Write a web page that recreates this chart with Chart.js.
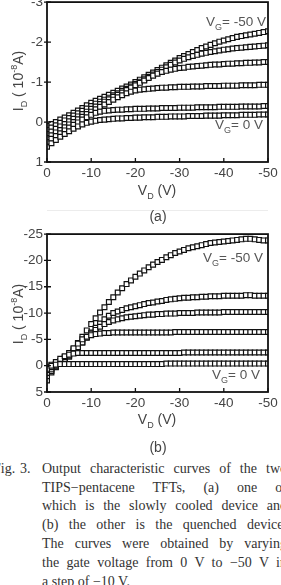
<!DOCTYPE html>
<html><head><meta charset="utf-8">
<script src="https://cdn.jsdelivr.net/npm/chart.js@4"></script>
<style>
html,body{margin:0;padding:0;background:#fff;}
body{width:281px;height:585px;overflow:hidden;position:relative;font-family:"Liberation Sans",Arial,sans-serif;}
canvas{position:absolute;left:0;}
.t{position:absolute;color:#444;font-size:14px;white-space:nowrap;line-height:1;}
.c{transform:translate(-50%,-50%);}
.r{transform:translate(-50%,-50%) rotate(-90deg);}
.t sub,.t sup{font-size:9px;line-height:0;}
.vg{position:absolute;color:#555;font-size:13.5px;white-space:nowrap;line-height:1;transform:translateY(-50%);}
.vg sub{font-size:9px;line-height:0;}
.sep{position:absolute;left:47px;width:221px;height:1px;background:#ececec;}
.cap{position:absolute;left:42px;width:245px;font-family:"Liberation Serif","Times New Roman",serif;font-size:14px;color:#333;line-height:18.8px;white-space:nowrap;}
.j{text-align:justify;text-align-last:justify;white-space:normal;}
</style></head>
<body>
<canvas id="ca" width="281" height="200" style="top:-10px"></canvas>
<canvas id="cb" width="281" height="200" style="top:222px"></canvas>

<div class="t r" style="left:18px;top:81px">I<sub>D</sub> ( 10<sup>-8</sup>A)</div>
<div class="t c" style="left:157px;top:190px">V<sub>D</sub> (V)</div>
<div class="sep" style="top:210px"></div>
<div class="t c" style="left:158px;top:216px">(a)</div>
<div class="vg" style="right:15px;top:22px">V<sub>G</sub>= -50 V</div>
<div class="vg" style="right:18px;top:125px">V<sub>G</sub>= 0 V</div>

<div class="t r" style="left:18px;top:314px">I<sub>D</sub> ( 10<sup>-8</sup>A)</div>
<div class="t c" style="left:157px;top:419px">V<sub>D</sub> (V)</div>
<div class="t c" style="left:158px;top:447px">(b)</div>
<div class="vg" style="right:18px;top:258px">V<sub>G</sub>= -50 V</div>
<div class="vg" style="right:21px;top:375px">V<sub>G</sub>= 0 V</div>

<div class="cap" style="left:-7px;top:460px">Fig.</div>
<div class="cap" style="left:20px;top:460px">3.</div>
<div class="cap j" style="top:460px">Output characteristic curves of the two</div>
<div class="cap j" style="top:478.5px">TIPS−pentacene TFTs, (a) one of</div>
<div class="cap j" style="top:497px">which is the slowly cooled device and</div>
<div class="cap j" style="top:516px">(b) the other is the quenched device.</div>
<div class="cap j" style="top:535px">The curves were obtained by varying</div>
<div class="cap j" style="top:554px">the gate voltage from 0 V to −50 V in</div>
<div class="cap" style="top:573px">a step of −10 V.</div>

<script>
const VD = [0,-1,-2,-3,-4,-5,-6,-7,-8,-9,-10,-11,-12,-13,-14,-15,-16,-17,-18,-19,-20,-21,-22,-23,-24,-25,-26,-27,-28,-29,-30,-31,-32,-33,-34,-35,-36,-37,-38,-39,-40,-41,-42,-43,-44,-45,-46,-47,-48,-49,-50];
const xTicks = [0,-10,-20,-30,-40,-50];
const yTicksA = [-3,-2,-1,0,1];
const yTicksB = [-25,-20,-15,-10,-5,0,5];

// (a) slowly cooled device, I_D in 1e-8 A
const a_VG0  = [0.62,0.53,0.45,0.37,0.30,0.23,0.17,0.11,0.06,0.02,-0.01,-0.03,-0.05,-0.06,-0.07,-0.08,-0.09,-0.09,-0.10,-0.10,-0.11,-0.11,-0.12,-0.12,-0.12,-0.13,-0.13,-0.13,-0.14,-0.14,-0.14,-0.14,-0.15,-0.15,-0.15,-0.15,-0.16,-0.16,-0.16,-0.16,-0.17,-0.17,-0.17,-0.17,-0.18,-0.18,-0.18,-0.18,-0.19,-0.19,-0.19];
const a_VG10 = [0.50,0.42,0.35,0.28,0.21,0.14,0.07,0.01,-0.06,-0.12,-0.18,-0.23,-0.26,-0.28,-0.29,-0.30,-0.31,-0.31,-0.32,-0.32,-0.33,-0.33,-0.33,-0.34,-0.34,-0.34,-0.35,-0.35,-0.35,-0.35,-0.36,-0.36,-0.36,-0.36,-0.37,-0.37,-0.37,-0.37,-0.37,-0.38,-0.38,-0.38,-0.38,-0.38,-0.39,-0.39,-0.39,-0.39,-0.39,-0.40,-0.40];
const a_VG20 = [0.40,0.33,0.26,0.20,0.13,0.06,0.00,-0.07,-0.13,-0.20,-0.26,-0.32,-0.38,-0.44,-0.50,-0.56,-0.62,-0.67,-0.72,-0.76,-0.79,-0.81,-0.82,-0.83,-0.84,-0.85,-0.86,-0.86,-0.87,-0.87,-0.88,-0.88,-0.88,-0.89,-0.89,-0.89,-0.90,-0.90,-0.90,-0.90,-0.91,-0.91,-0.91,-0.91,-0.92,-0.92,-0.92,-0.92,-0.93,-0.93,-0.93];
const a_VG30 = [0.30,0.24,0.17,0.11,0.05,-0.02,-0.08,-0.14,-0.20,-0.26,-0.33,-0.39,-0.45,-0.51,-0.57,-0.63,-0.68,-0.74,-0.80,-0.86,-0.92,-0.98,-1.04,-1.10,-1.16,-1.21,-1.25,-1.28,-1.31,-1.33,-1.35,-1.36,-1.38,-1.39,-1.40,-1.41,-1.42,-1.43,-1.44,-1.44,-1.45,-1.46,-1.46,-1.47,-1.47,-1.48,-1.48,-1.49,-1.49,-1.50,-1.50];
const a_VG40 = [0.20,0.14,0.08,0.02,-0.04,-0.10,-0.16,-0.22,-0.28,-0.34,-0.40,-0.46,-0.51,-0.56,-0.61,-0.67,-0.72,-0.78,-0.83,-0.89,-0.95,-1.01,-1.07,-1.13,-1.19,-1.25,-1.31,-1.37,-1.43,-1.49,-1.54,-1.58,-1.62,-1.65,-1.68,-1.71,-1.73,-1.75,-1.77,-1.79,-1.81,-1.82,-1.84,-1.85,-1.86,-1.87,-1.88,-1.89,-1.90,-1.91,-1.92];
const a_VG50 = [0.10,0.05,0.00,-0.06,-0.11,-0.17,-0.23,-0.29,-0.35,-0.42,-0.48,-0.53,-0.58,-0.63,-0.68,-0.73,-0.78,-0.84,-0.89,-0.94,-1.00,-1.06,-1.12,-1.18,-1.24,-1.30,-1.36,-1.42,-1.48,-1.54,-1.60,-1.65,-1.70,-1.75,-1.80,-1.85,-1.89,-1.93,-1.97,-2.01,-2.04,-2.07,-2.10,-2.13,-2.15,-2.17,-2.19,-2.21,-2.23,-2.25,-2.27];

// (b) quenched device, I_D in 1e-8 A
const b_VG0  = [0.6,0.0,-0.2,-0.3,-0.3,-0.3,-0.3,-0.3,-0.3,-0.3,-0.3,-0.3,-0.3,-0.3,-0.3,-0.3,-0.3,-0.3,-0.3,-0.3,-0.3,-0.3,-0.3,-0.3,-0.3,-0.3,-0.3,-0.4,-0.4,-0.4,-0.4,-0.4,-0.4,-0.4,-0.4,-0.4,-0.4,-0.4,-0.4,-0.4,-0.4,-0.4,-0.4,-0.4,-0.4,-0.4,-0.4,-0.4,-0.4,-0.4,-0.4];
const b_VG10 = [0.3,-0.2,-0.7,-1.3,-1.8,-2.1,-2.3,-2.4,-2.4,-2.4,-2.4,-2.4,-2.4,-2.4,-2.4,-2.4,-2.4,-2.4,-2.4,-2.4,-2.4,-2.4,-2.4,-2.4,-2.4,-2.4,-2.4,-2.4,-2.4,-2.4,-2.4,-2.5,-2.5,-2.5,-2.5,-2.5,-2.5,-2.5,-2.5,-2.5,-2.5,-2.5,-2.5,-2.5,-2.5,-2.5,-2.5,-2.5,-2.5,-2.5,-2.5];
const b_VG20 = [0.8,0.3,-0.3,-0.9,-1.6,-2.4,-3.3,-4.2,-5.0,-5.5,-5.8,-6.0,-6.1,-6.2,-6.2,-6.3,-6.3,-6.3,-6.3,-6.3,-6.3,-6.3,-6.3,-6.3,-6.3,-6.3,-6.3,-6.3,-6.3,-6.4,-6.4,-6.4,-6.4,-6.4,-6.4,-6.4,-6.4,-6.4,-6.4,-6.4,-6.4,-6.4,-6.4,-6.4,-6.4,-6.4,-6.4,-6.4,-6.4,-6.4,-6.4];
const b_VG30 = [1.4,0.7,0.0,-0.6,-1.2,-1.9,-2.7,-3.5,-4.4,-5.3,-6.1,-6.8,-7.4,-7.9,-8.3,-8.6,-8.8,-9.0,-9.2,-9.3,-9.4,-9.5,-9.6,-9.7,-9.7,-9.8,-9.8,-9.9,-9.9,-9.9,-10.0,-10.0,-10.0,-10.0,-10.1,-10.1,-10.1,-10.1,-10.1,-10.1,-10.2,-10.2,-10.2,-10.2,-10.2,-10.2,-10.2,-10.2,-10.2,-10.2,-10.2];
const b_VG40 = [2.0,1.0,0.2,-0.4,-1.0,-1.7,-2.5,-3.4,-4.4,-5.4,-6.3,-7.2,-8.0,-8.8,-9.5,-10.0,-10.3,-10.6,-10.9,-11.1,-11.3,-11.5,-11.7,-11.9,-12.0,-12.2,-12.3,-12.5,-12.6,-12.7,-12.8,-12.9,-12.9,-13.0,-13.0,-13.1,-13.1,-13.2,-13.2,-13.2,-13.3,-13.3,-13.3,-13.3,-13.3,-13.4,-13.4,-13.3,-13.3,-13.3,-13.3];
const b_VG50 = [2.8,1.3,0.3,-0.4,-1.2,-2.1,-3.1,-4.3,-5.5,-6.7,-7.9,-9.0,-10.1,-11.1,-12.1,-13.0,-13.9,-14.7,-15.5,-16.2,-16.9,-17.5,-18.1,-18.7,-19.2,-19.7,-20.1,-20.6,-21.0,-21.4,-21.7,-22.0,-22.3,-22.5,-22.7,-22.9,-23.1,-23.3,-23.4,-23.5,-23.6,-23.7,-23.8,-23.9,-24.0,-24.1,-24.1,-24.0,-23.9,-23.8,-23.8];

const frame = {
  id: 'frame',
  afterDraw(chart) {
    const {ctx, chartArea: a, scales: {x, y}} = chart;
    ctx.save();
    ctx.strokeStyle = '#111';
    ctx.lineWidth = 1.8;
    ctx.strokeRect(a.left, a.top, a.right - a.left, a.bottom - a.top);
    ctx.lineWidth = 1.3;
    ctx.beginPath();
    x.ticks.forEach(t => { const px = x.getPixelForValue(t.value); ctx.moveTo(px, a.bottom); ctx.lineTo(px, a.bottom - 4); });
    y.ticks.forEach(t => { const py = y.getPixelForValue(t.value); ctx.moveTo(a.left - 3, py); ctx.lineTo(a.left + 4, py); });
    ctx.stroke();
    ctx.restore();
  }
};

function makeDs(arr) {
  return {
    data: VD.map((v, i) => ({x: v, y: arr[i]})),
    showLine: false,
    pointStyle: 'rect',
    pointRadius: 3.4,
    pointHoverRadius: 3.4,
    pointBorderWidth: 1.2,
    pointBorderColor: '#111',
    pointBackgroundColor: '#fff'
  };
}

function makeChart(id, series, ymin, ymax, step, yticks, padBottom) {
  const tickFont = {family: '"Liberation Sans", Arial, sans-serif', size: 13.5};
  new Chart(document.getElementById(id), {
    type: 'scatter',
    data: {datasets: series.map(makeDs)},
    options: {
      responsive: false,
      animation: false,
      devicePixelRatio: 1,
      layout: {padding: {left: 0, right: 13, top: 12, bottom: padBottom}},
      plugins: {legend: {display: false}, tooltip: {enabled: false}},
      scales: {
        x: {
          type: 'linear', min: -50, max: 0, reverse: true,
          afterBuildTicks: s => { s.ticks = xTicks.map(v => ({value: v})); },
          afterFit: s => { s.height = 20; },
          grid: {display: false, drawTicks: false},
          border: {display: false},
          ticks: {color: '#444', font: tickFont, padding: 3, maxRotation: 0, autoSkip: false}
        },
        y: {
          type: 'linear', min: ymin, max: ymax, reverse: true,
          afterBuildTicks: s => { s.ticks = yticks.map(v => ({value: v})); },
          afterFit: s => { s.width = 47; },
          grid: {display: false, drawTicks: false},
          border: {display: false},
          ticks: {color: '#444', font: tickFont, padding: 4, autoSkip: false}
        }
      }
    },
    plugins: [frame]
  });
}

makeChart('ca', [a_VG0, a_VG10, a_VG20, a_VG30, a_VG40, a_VG50], -3, 1, 1, yTicksA, 8);
makeChart('cb', [b_VG0, b_VG10, b_VG20, b_VG30, b_VG40, b_VG50], -25, 5, 5, yTicksB, 10);
</script>
</body></html>
